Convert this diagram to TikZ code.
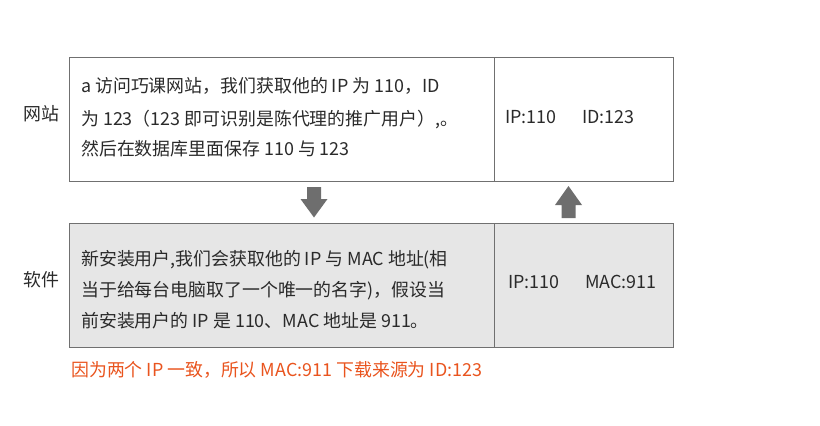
\documentclass[tikz,border=0pt]{standalone}
\usepackage{fontspec}
\setmainfont{Noto Sans CJK SC}
\newfontfamily\cjk{Noto Sans CJK SC}
\definecolor{edgegray}{HTML}{707070}
\definecolor{boxfill}{HTML}{E6E6E6}
\definecolor{arrowgray}{HTML}{6E6E6E}
\definecolor{txt}{HTML}{2A2A2A}
\definecolor{note}{HTML}{E9541E}
\tikzset{
  cell/.style={draw=edgegray, line width=1pt, inner sep=0pt, minimum height=123.5pt},
  line/.style={anchor=west, inner sep=0pt, text=txt, font=\cjk\fontsize{17.9}{22}\selectfont, text height=0.88em, text depth=0.12em},
  side/.style={line, anchor=center},
  bigarrow/.style={fill=arrowgray, draw=none},
}
\begin{document}
\begin{tikzpicture}[x=1pt,y=-1pt]
\useasboundingbox (0,0) rectangle (820,426);
% cells
\node[cell, minimum width=425pt] (tl) at (281.5,119.25) {};
\node[cell, minimum width=179pt] (tr) at (583.5,119.25) {};
\node[cell, fill=boxfill, minimum width=425pt] (bl) at (281.5,285.5) {};
\node[cell, fill=boxfill, minimum width=179pt] (br) at (583.5,285.5) {};
% side labels
\node[side] (web) at (41,117) {网站};
\node[side] (soft) at (41,283) {软件};
% top texts
\node[line] (t1) at (81,89) {a 访问巧课网站，我们获取他的 IP 为 110，ID};
\node[line] (t2) at (81,122) {为 123（123 即可识别是陈代理的推广用户）,。};
\node[line] (t3) at (81,152) {然后在数据库里面保存 110 与 123};
\node[line] (tip) at (505,120) {IP:110};
\node[line] (tid) at (582,120) {ID:123};
% bottom texts
\node[line] (b1) at (81,262) {新安装用户,我们会获取他的 IP 与 MAC 地址(相};
\node[line] (b2) at (81,293) {当于给每台电脑取了一个唯一的名字)，假设当};
\node[line] (b3) at (81,324) {前安装用户的 IP 是 110、MAC 地址是 911。};
\node[line] (bip) at (508,285) {IP:110};
\node[line] (bmac) at (585,285) {MAC:911};
% note
\node[line, text=note] (note) at (71,373) {因为两个 IP 一致，所以 MAC:911 下载来源为 ID:123};
% arrows
\fill[bigarrow] (307,187) -- (321,187) -- (321,199) -- (327.5,199) -- (314,217.5) -- (300.5,199) -- (307,199) -- cycle;
\fill[bigarrow] (561.5,218) -- (575.5,218) -- (575.5,205) -- (582,205) -- (568.5,186) -- (555,205) -- (561.5,205) -- cycle;
\end{tikzpicture}
\end{document}
